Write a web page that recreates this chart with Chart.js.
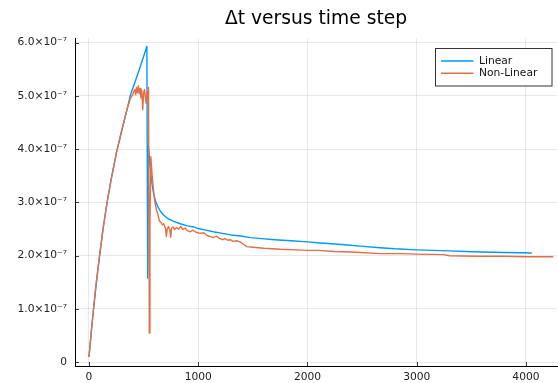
<!DOCTYPE html>
<html>
<head>
<meta charset="utf-8">
<style>
  html, body { margin: 0; padding: 0; background: #fff; }
  #c { display: block; }
</style>
<script src="https://cdn.jsdelivr.net/npm/chart.js@4.4.1/dist/chart.umd.min.js"></script>
</head>
<body>
<canvas id="c" width="558" height="383"></canvas>
<script>
// Time step Δt (in units of 1e-7 s) against step index, for the two solvers.
const UNIT = 1e-7;

const linearSteps = [
  0, 20, 40, 60, 80, 100, 130, 164, 200, 250, 300, 350, 380, 420, 460, 500, 530,
  537, 545, 555, 565, 576, 590, 610, 630, 652, 680, 720, 770, 835, 900, 960, 1000,
  1070, 1137, 1220, 1300, 1390, 1476, 1580, 1700, 1850, 2000, 2120, 2250, 2370, 2482,
  2665, 2800, 3000, 3150, 3300, 3450, 3600, 3700, 3800, 3950, 4053
];
const linearDt = [
  0.10, 0.55, 0.97, 1.36, 1.72, 2.05, 2.52, 2.98, 3.40, 3.92, 4.35, 4.76, 5.02, 5.25, 5.49, 5.74, 5.93,
  1.58, 4.05, 3.80, 3.55, 3.36, 3.18, 3.02, 2.92, 2.84, 2.77, 2.70, 2.65, 2.60, 2.56, 2.54, 2.51,
  2.48, 2.45, 2.42, 2.39, 2.37, 2.34, 2.32, 2.30, 2.28, 2.26, 2.24, 2.22, 2.20, 2.18,
  2.15, 2.13, 2.11, 2.10, 2.09, 2.08, 2.07, 2.065, 2.06, 2.055, 2.05
];

const nonlinearSteps = [
  0, 20, 40, 60, 80, 100, 130, 164, 200, 250, 300, 350, 380, 400,
  410, 420, 428, 436, 444, 452, 460, 468, 476, 484, 492, 500, 508, 516, 524, 532, 540, 545,
  552, 558, 566, 575, 585, 600, 615, 630, 645, 660, 672, 683, 700, 708, 716, 728, 740, 748,
  756, 770, 785, 800, 820, 840, 860, 880, 900, 927, 950, 980, 1018, 1050, 1080, 1110, 1137,
  1165, 1190, 1220, 1245, 1270, 1293, 1320, 1350, 1384, 1410, 1445, 1500, 1600, 1750, 1900,
  2000, 2100, 2250, 2400, 2482, 2665, 2850, 3000, 3250, 3300, 3550, 3800, 4000, 4250
];
const nonlinearDt = [
  0.10, 0.55, 0.97, 1.36, 1.72, 2.05, 2.52, 2.98, 3.40, 3.92, 4.35, 4.76, 4.96, 5.02,
  5.08, 5.12, 5.02, 5.16, 5.06, 5.19, 5.04, 5.14, 4.96, 5.10, 4.74, 5.05, 5.12, 4.98, 4.86, 5.08, 4.95, 5.16,
  0.55, 2.60, 3.86, 3.60, 3.35, 3.05, 2.88, 2.78, 2.65, 2.62, 2.58, 2.60, 2.52, 2.36, 2.50, 2.55, 2.48, 2.35,
  2.52, 2.54, 2.49, 2.53, 2.50, 2.55, 2.49, 2.52, 2.47, 2.45, 2.48, 2.44, 2.42, 2.43, 2.38, 2.36, 2.34,
  2.37, 2.33, 2.30, 2.32, 2.29, 2.30, 2.27, 2.28, 2.26, 2.22, 2.17, 2.16, 2.14, 2.12, 2.11,
  2.10, 2.10, 2.08, 2.07, 2.06, 2.04, 2.04, 2.03, 2.02, 2.00, 1.99, 1.99, 1.98, 1.98
];

const xTicks = [0, 1000, 2000, 3000, 4000];
const xTickLabels = ['0', '1000', '2000', '3000', '4000'];
const yTicks = [0, 1, 2, 3, 4, 5, 6];
const yTickLabels = ['0', '1.0×10⁻⁷', '2.0×10⁻⁷', '3.0×10⁻⁷', '4.0×10⁻⁷', '5.0×10⁻⁷', '6.0×10⁻⁷'];

const seriesNames = ['Linear', 'Non-Linear'];
const seriesColors = ['#009AFA', '#E26F46'];

const FONT = 'DejaVu Sans';

function toPoints(steps, dt) {
  return steps.map((s, i) => ({ x: s, y: dt[i] * UNIT }));
}

// Inward tick marks on the left and bottom axes.
const innerTicks = {
  id: 'innerTicks',
  afterDraw(chart) {
    const { ctx, chartArea, scales } = chart;
    ctx.save();
    ctx.strokeStyle = 'rgba(0,0,0,0.75)';
    ctx.lineWidth = 1;
    ctx.beginPath();
    xTicks.forEach(v => {
      const px = Math.round(scales.x.getPixelForValue(v)) + 0.5;
      ctx.moveTo(px, chartArea.bottom);
      ctx.lineTo(px, chartArea.bottom - 4);
    });
    yTicks.forEach(v => {
      const py = Math.round(scales.y.getPixelForValue(v * UNIT)) + 0.5;
      ctx.moveTo(chartArea.left, py);
      ctx.lineTo(chartArea.left + 4, py);
    });
    ctx.stroke();
    ctx.restore();
  }
};

// Boxed legend in the upper right corner of the plot area.
const boxLegend = {
  id: 'boxLegend',
  afterDraw(chart) {
    const { ctx, chartArea } = chart;
    const w = 116.5, h = 37.5;
    const x0 = Math.round(chartArea.right - 5.5 - w) + 0.5;
    const y0 = Math.round(chartArea.top + 10) + 0.5;
    ctx.save();
    ctx.fillStyle = '#fff';
    ctx.fillRect(x0, y0, w, h);
    ctx.strokeStyle = '#333';
    ctx.lineWidth = 1;
    ctx.strokeRect(x0, y0, w, h);
    ctx.font = '10.7px "' + FONT + '"';
    ctx.textBaseline = 'middle';
    ctx.textAlign = 'left';
    chart.data.datasets.forEach((ds, i) => {
      const cy = y0 + 12.5 + i * 12.3;
      ctx.strokeStyle = ds.borderColor;
      ctx.lineWidth = 1.4;
      ctx.beginPath();
      ctx.moveTo(x0 + 5.5, cy);
      ctx.lineTo(x0 + 38, cy);
      ctx.stroke();
      ctx.fillStyle = '#111';
      ctx.fillText(ds.label, x0 + 43.5, cy);
    });
    ctx.restore();
  }
};

new Chart(document.getElementById('c'), {
  type: 'line',
  data: {
    datasets: [
      {
        label: seriesNames[0],
        data: toPoints(linearSteps, linearDt),
        borderColor: seriesColors[0],
        backgroundColor: seriesColors[0],
        borderWidth: 1.4,
        pointRadius: 0,
        borderJoinStyle: 'round',
        tension: 0,
        fill: false,
        order: 1
      },
      {
        label: seriesNames[1],
        data: toPoints(nonlinearSteps, nonlinearDt),
        borderColor: seriesColors[1],
        backgroundColor: seriesColors[1],
        borderWidth: 1.4,
        pointRadius: 0,
        borderJoinStyle: 'round',
        tension: 0,
        fill: false,
        order: 0
      }
    ]
  },
  options: {
    responsive: false,
    animation: false,
    devicePixelRatio: 1,
    layout: { padding: { left: 0, right: 1, top: 0, bottom: 0 } },
    plugins: {
      legend: { display: false },
      tooltip: { enabled: false },
      title: {
        display: true,
        text: 'Δt versus time step',
        fullSize: false,
        color: '#000',
        font: { family: FONT, size: 18.7, weight: 'normal', lineHeight: 1.2 },
        padding: { top: 8.3, bottom: 7.6 }
      }
    },
    scales: {
      x: {
        type: 'linear',
        min: -128,
        max: 4284,
        afterBuildTicks: s => { s.ticks = xTicks.map(v => ({ value: v })); },
        afterFit: s => { s.height = 17; },
        ticks: {
          callback: (v, i) => xTickLabels[i],
          color: '#222',
          font: { family: FONT, size: 10.7 },
          padding: 5,
          maxRotation: 0,
          autoSkip: false
        },
        grid: { color: 'rgba(0,0,0,0.09)', lineWidth: 1, drawTicks: false },
        border: { color: '#000', width: 1 }
      },
      y: {
        type: 'linear',
        min: -0.07 * UNIT,
        max: 6.08 * UNIT,
        afterBuildTicks: s => { s.ticks = yTicks.map(v => ({ value: v * UNIT })); },
        afterFit: s => { s.width = 75; },
        ticks: {
          callback: (v, i) => yTickLabels[i],
          color: '#222',
          font: { family: FONT, size: 10.7 },
          padding: 8,
          autoSkip: false
        },
        grid: { color: 'rgba(0,0,0,0.09)', lineWidth: 1, drawTicks: false },
        border: { color: '#000', width: 1 }
      }
    }
  },
  plugins: [innerTicks, boxLegend]
});
</script>
</body>
</html>
